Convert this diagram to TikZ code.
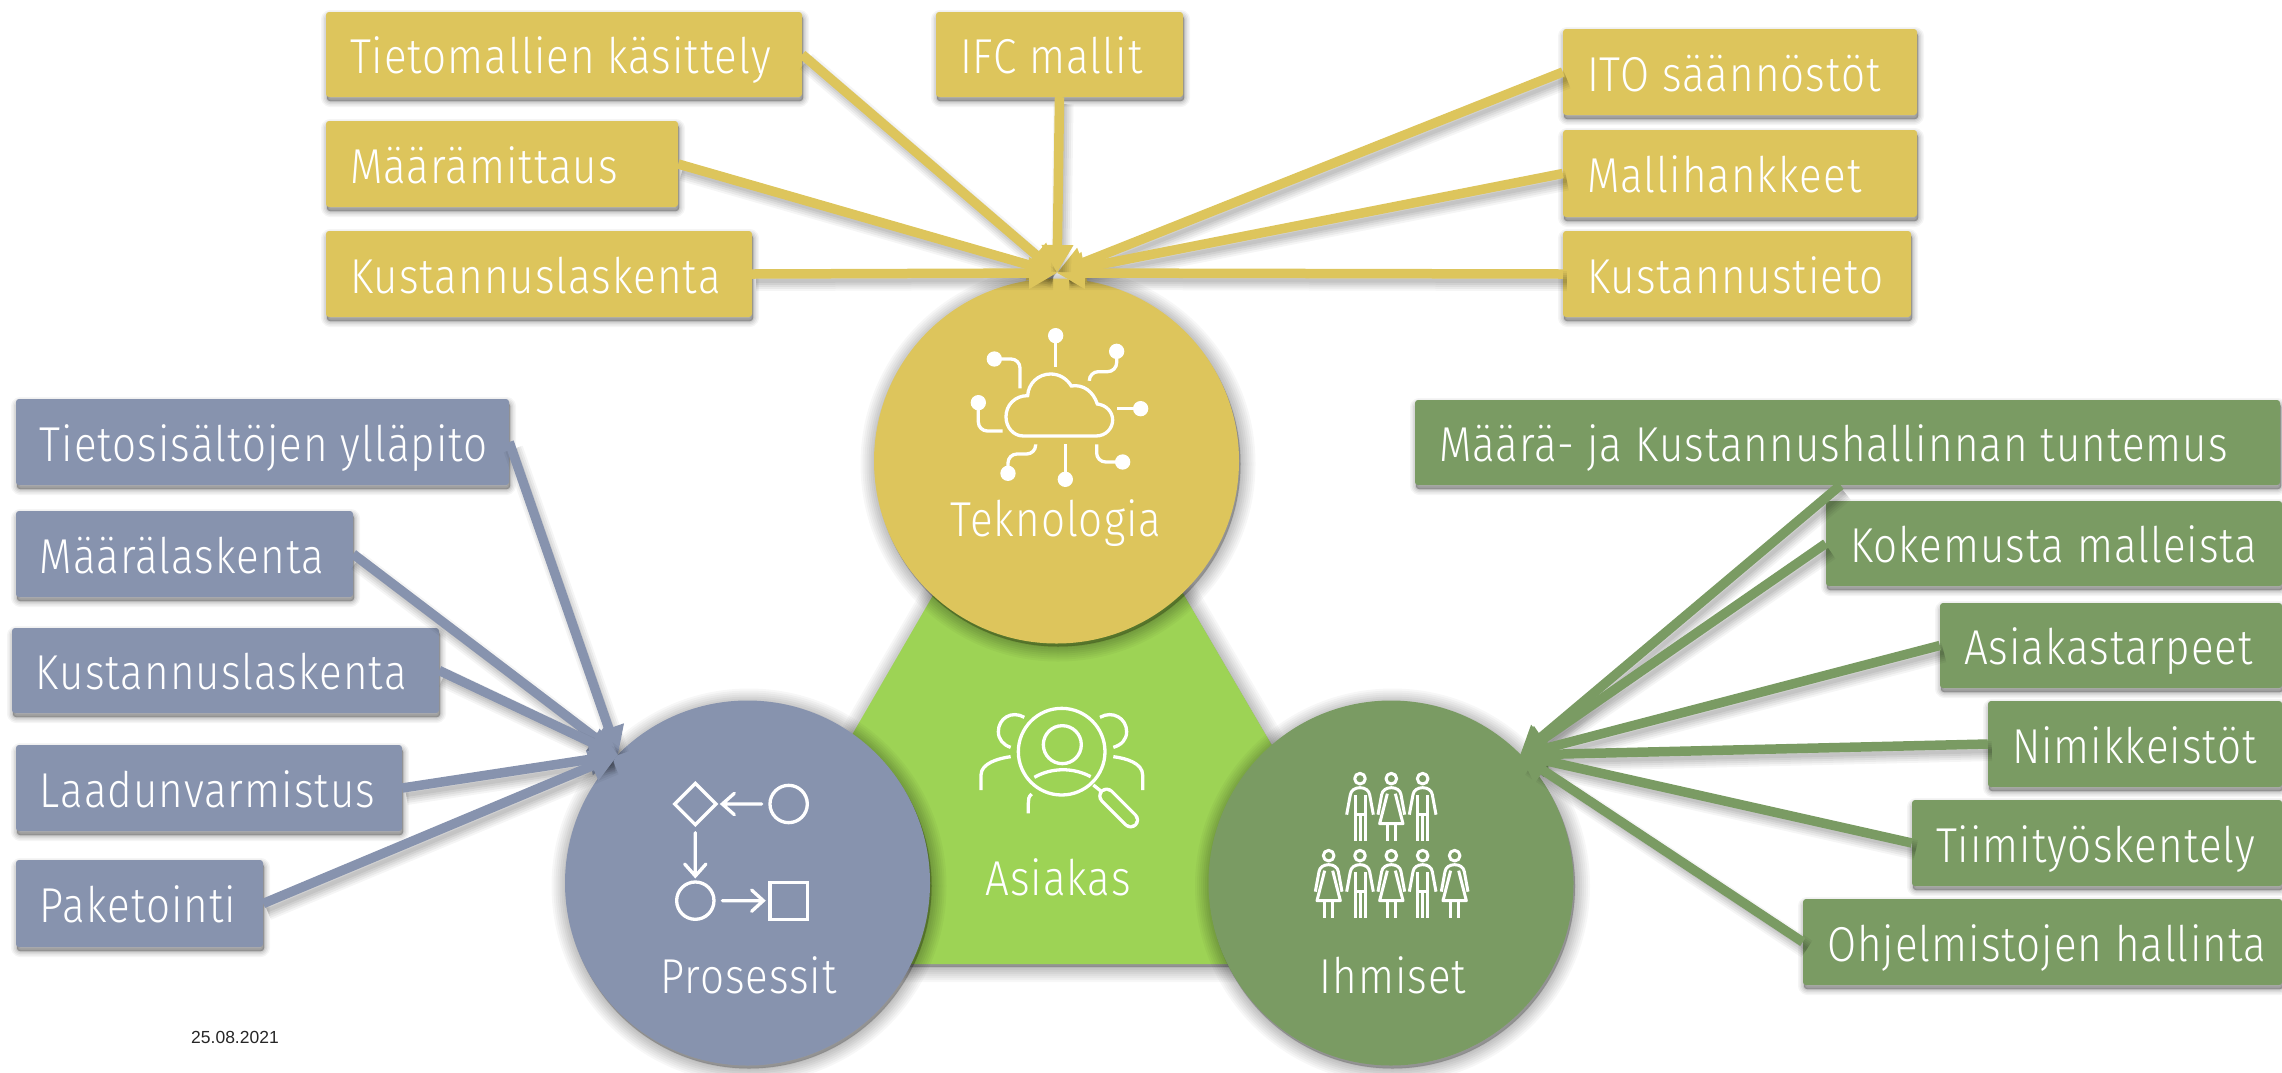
\documentclass[tikz,border=0pt]{standalone}
\usepackage{fontspec}
\usetikzlibrary{arrows.meta,calc}
\setmainfont{Fira Sans Light}[FakeStretch=0.86,LetterSpace=2.1]
\newfontfamily\datefont{Liberation Sans}
\definecolor{cyel}{RGB}{221,197,92}
\definecolor{cblu}{RGB}{135,147,174}
\definecolor{cgrn}{RGB}{122,155,99}
\definecolor{clim}{RGB}{157,211,85}
\tikzset{
 softlayer/.style n args={3}{preaction={draw=black,fill=black,opacity=#1,line width=#2pt,line join=round,arrows=-,transform canvas={shift={#3}}}},
 softshadow/.style={softlayer={.03}{30}{(1.5pt,-3pt)},softlayer={.03}{26}{(1.5pt,-3pt)},softlayer={.035}{22}{(1.5pt,-3pt)},softlayer={.035}{18}{(1.5pt,-3pt)},softlayer={.04}{14}{(1.5pt,-3pt)},softlayer={.04}{10}{(1.5pt,-3pt)},softlayer={.04}{6}{(1.5pt,-3pt)},softlayer={.04}{2}{(1.5pt,-3pt)}},
 boxshadow/.style={softlayer={.04}{12}{(1pt,-4pt)},softlayer={.05}{9}{(1pt,-4pt)},softlayer={.06}{6}{(1pt,-4pt)},softlayer={.07}{3}{(1pt,-4pt)},softlayer={.08}{1}{(1pt,-4pt)}},
 conlayer/.style n args={2}{preaction={draw=black,opacity=#1,line width=#2pt,arrows=-,shorten >=8pt,transform canvas={shift={(4pt,-7pt)}}}},
 conshadow/.style={conlayer={.04}{20},conlayer={.05}{16},conlayer={.05}{12},conlayer={.06}{8},conlayer={.06}{4}},
 hub/.style={circle,inner sep=0pt,minimum size=365pt,softshadow},
 hublabel/.style={anchor=base,white,font=\fontsize{49}{49}\selectfont,inner sep=0pt},
 tagbox/.style={rectangle,rounded corners=3pt,inner sep=0pt,boxshadow,white,text height=38pt,text depth=0pt,font=\fontsize{49}{49}\selectfont},
 conn/.style={line width=9.5pt,conshadow,-{Triangle[width=30pt,length=28pt]}},
 ico/.style={draw=white,line width=3.3pt,fill=none},
 icothin/.style={draw=white,line width=3pt,fill=none,line join=round},
}
\newcommand{\bx}[7]{%
 \pgfmathsetmacro\bxw{#5-#3}\pgfmathsetmacro\bxh{#6-#4}\pgfmathsetmacro\bxx{(#3+#5)/2}\pgfmathsetmacro\bxy{(#4+#6)/2}%
 \node[tagbox,fill=#1,minimum width=\bxw pt,minimum height=\bxh pt] (#2) at (\bxx,\bxy) {\makebox[\bxw pt][l]{\hspace*{24pt}#7}};}
\newcommand{\manfig}[2]{\begin{scope}[shift={(#1,#2)}]
 \draw[icothin] (0,0) circle[radius=16];
 \draw[icothin] (-40,108) -- (-29,48) .. controls (-27,35) and (-15,27) .. (0,27) .. controls (15,27) and (27,35) .. (29,48) -- (40,108);
 \draw[icothin] (-15,50) -- (-15,188) (15,50) -- (15,188) (0,108) -- (0,188) (-15,108) -- (15,108);
\end{scope}}
\newcommand{\womanfig}[2]{\begin{scope}[shift={(#1,#2)}]
 \draw[icothin] (0,0) circle[radius=16];
 \draw[icothin] (-40,108) -- (-29,48) .. controls (-27,35) and (-15,27) .. (0,27) .. controls (15,27) and (27,35) .. (29,48) -- (40,108);
 \draw[icothin] (-12,45) -- (-35,135) -- (35,135) -- (12,45);
 \draw[icothin] (-12,135) -- (-12,188) (12,135) -- (12,188);
\end{scope}}
\begin{document}
\begin{tikzpicture}[x=1pt,y=-1pt]
\useasboundingbox (0,0) rectangle (2282,1072);
% central shape
\fill[clim,softshadow] (1058,380) -- (1400,964) -- (719,964) -- cycle;
% hubs
\node[hub,fill=cyel] (tek) at (1056.5,461) {};
\node[hub,fill=cblu] (pro) at (747.5,883) {};
\node[hub,fill=cgrn] (ihm) at (1391,883) {};
% hub labels
\node[hublabel] (ltek) at (1056,536) {Teknologia};
\node[hublabel] (lpro) at (748.5,993) {Prosessit};
\node[hublabel] (lihm) at (1393,993) {Ihmiset};
\node[hublabel] (lasi) at (1058,895) {Asiakas};
% tag boxes
\bx{cyel}{y1}{326}{12}{802}{97}{Tietomallien käsittely}
\bx{cyel}{y2}{936}{12}{1183}{97}{IFC mallit}
\bx{cyel}{y3}{1563}{29}{1917}{115}{ITO säännöstöt}
\bx{cyel}{y4}{326}{121}{678}{207}{Määrämittaus}
\bx{cyel}{y5}{1563}{130}{1917}{217}{Mallihankkeet}
\bx{cyel}{y6}{326}{231}{752}{317}{Kustannuslaskenta}
\bx{cyel}{y7}{1563}{231}{1911}{317}{Kustannustieto}
\bx{cblu}{b1}{16}{399}{509}{485}{Tietosisältöjen ylläpito}
\bx{cblu}{b2}{16}{511}{353}{597}{Määrälaskenta}
\bx{cblu}{b3}{12}{628}{439}{713}{Kustannuslaskenta}
\bx{cblu}{b4}{16}{745}{402}{831}{Laadunvarmistus}
\bx{cblu}{b5}{16}{860}{263}{947}{Paketointi}
\bx{cgrn}{g1}{1415}{400}{2280}{485}{Määrä- ja Kustannushallinnan tuntemus}
\bx{cgrn}{g2}{1826}{501}{2282}{586}{Kokemusta malleista}
\bx{cgrn}{g3}{1940}{603}{2282}{688}{Asiakastarpeet}
\bx{cgrn}{g4}{1988}{701}{2282}{787}{Nimikkeistöt}
\bx{cgrn}{g5}{1912}{800}{2282}{886}{Tiimityöskentely}
\bx{cgrn}{g6}{1803}{899}{2282}{985}{Ohjelmistojen hallinta}
% convergence points
\coordinate (ytip) at (1057,273);
\coordinate (btip) at (618,755);
\coordinate (gtip) at (1520,755);
% connectors
\foreach \a in {y1,y4,y6}{\draw[conn,cyel] (\a.east) -- (ytip);}
\foreach \a in {y3,y5,y7}{\draw[conn,cyel] (\a.west) -- (ytip);}
\draw[conn,cyel] (y2.south) -- (ytip);
\foreach \a in {b1,b2,b3,b4,b5}{\draw[conn,cblu] (\a.east) -- (btip);}
\draw[conn,cgrn] ([xshift=-7pt]g1.south) -- (gtip);
\foreach \a in {g2,g3,g4,g5,g6}{\draw[conn,cgrn] (\a.west) -- (gtip);}
% date
\node[anchor=base west,inner sep=0pt,font=\datefont\fontsize{17.5}{17.5}\selectfont,text=black!85] (date) at (191,1043) {25.08.2021};
% cloud icon
\begin{scope}[shift={(860,250)},x=.3333pt,y=-.3333pt]
\draw[ico] (490,558) -- (708,558) .. controls (738,558) and (758,535) .. (758,510) .. controls (758,485) and (738,465) .. (712,462) .. controls (700,425) and (670,402) .. (634,408) .. controls (620,385) and (597,372) .. (572,372) .. controls (535,372) and (505,400) .. (503,437) .. controls (465,437) and (438,465) .. (438,500) .. controls (438,532) and (460,558) .. (490,558) -- cycle;
\foreach \p in {(587,257),(403,327),(355,458),(770,304),(842,476),(616,688),(444,670),(788,636)}{\fill[white] \p circle[radius=23];}
\draw[ico,rounded corners=9pt] (587,257) -- (587,352);
\draw[ico,rounded corners=9pt] (403,327) -- (480,327) -- (480,415);
\draw[ico,rounded corners=9pt] (355,458) -- (355,543) -- (428,543);
\draw[ico,rounded corners=9pt] (770,304) -- (770,365) -- (688,365) -- (688,392);
\draw[ico] (842,476) -- (772,476);
\draw[ico] (616,688) -- (616,583);
\draw[ico,rounded corners=9pt] (444,670) -- (444,612) -- (527,612) -- (527,583);
\draw[ico,rounded corners=9pt] (788,636) -- (710,636) -- (710,583);
\end{scope}
% process icon
\begin{scope}[shift={(560,680)},x=.3333pt,y=-.3333pt]
\draw[ico,line join=miter] (406,310) -- (468,372) -- (406,434) -- (344,372) -- cycle;
\draw[ico,line cap=round] (605,372) -- (487,372) (523,340) -- (487,372) -- (523,404);
\draw[ico] (686,372) circle[radius=56];
\draw[ico,line cap=round] (406,458) -- (406,588) (374,552) -- (406,588) -- (438,552);
\draw[ico] (406,662) circle[radius=56];
\draw[ico,line cap=round] (487,662) -- (610,662) (575,630) -- (610,662) -- (575,694);
\draw[ico] (630,607) rectangle (742,718);
\end{scope}
% people icon
\begin{scope}[shift={(1200,680)},x=.3333pt,y=-.3333pt]
\manfig{480}{296}\womanfig{574}{296}\manfig{668}{296}
\womanfig{386}{527}\manfig{480}{527}\womanfig{574}{527}\manfig{668}{527}\womanfig{764}{527}
\end{scope}
% customer icon
\begin{scope}[shift={(920,660)},x=.3333pt,y=-.3333pt]
\draw[ico] (425,275) circle[radius=130];
\draw[ico] (427,254) circle[radius=57];
\draw[ico] (343,352) .. controls (395,322) and (460,322) .. (512,350);
\draw[ico] (313,172) .. controls (275,150) and (235,175) .. (235,215) .. controls (235,238) and (250,255) .. (272,262);
\draw[ico] (272,290) .. controls (235,295) and (183,310) .. (183,345) -- (183,390);
\draw[ico] (540,172) .. controls (578,150) and (620,175) .. (620,215) .. controls (620,238) and (605,255) .. (580,262);
\draw[ico] (580,290) .. controls (620,295) and (668,310) .. (668,345) -- (668,390);
\draw[ico] (335,402) .. controls (325,410) and (325,420) .. (325,430) -- (325,460);
\draw[ico] (520,375) -- (545,395);
\draw[white,line width=17pt,line cap=round] (560,408) -- (632,480);
\draw[clim,line width=10.4pt,line cap=round] (560,408) -- (632,480);
\end{scope}
\end{tikzpicture}
\end{document}
